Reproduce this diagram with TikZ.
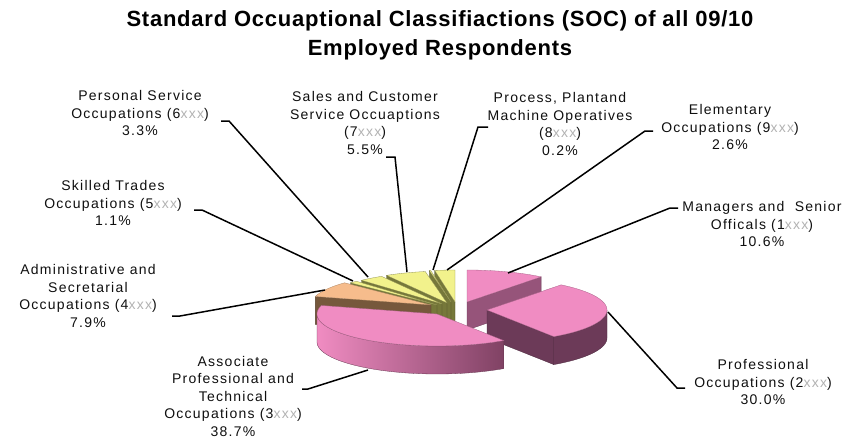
\documentclass[tikz,border=0pt]{standalone}
\usepackage{fontspec}
\setmainfont{Liberation Sans}
\newfontfamily\lblfont[LetterSpace=9]{Liberation Sans}
\newfontfamily\ttlfont[LetterSpace=3.5]{Liberation Sans}
\usetikzlibrary{calc}
\definecolor{pinkT}{RGB}{240,140,194}
\definecolor{mgrSide}{RGB}{150,84,122}
\definecolor{proSide}{RGB}{108,58,88}
\definecolor{assDark}{RGB}{128,66,100}
\definecolor{peachT}{RGB}{246,188,140}
\definecolor{brownS}{RGB}{118,88,60}
\definecolor{yelT}{RGB}{242,242,140}
\definecolor{oliveS}{RGB}{118,120,58}
\definecolor{txt}{RGB}{15,15,15}
\def\pRX{120}\def\pRY{32}\def\pHH{28}
\newcommand\pieslice[7]{%
  \pgfmathsetmacro\sA{max(#3,90)}%
  \pgfmathsetmacro\sB{min(#4,270)}%
  \pgfmathtruncatemacro\vC{\sB>\sA ? 1 : 0}%
  \ifnum\vC=1
    \path[#6] plot[domain=\sA:\sB,samples=40] ({#1+\pRX*sin(\x)},{#2-\pRY*cos(\x)}) -- plot[domain=\sB:\sA,samples=40] ({#1+\pRX*sin(\x)},{#2+\pHH-\pRY*cos(\x)}) -- cycle;
  \fi
  \pgfmathtruncatemacro\vS{sin(#3)<-0.01 ? 1 : 0}%
  \ifnum\vS=1
    \path[#7] (#1,#2) -- ({#1+\pRX*sin(#3)},{#2-\pRY*cos(#3)}) -- ({#1+\pRX*sin(#3)},{#2+\pHH-\pRY*cos(#3)}) -- (#1,#2+\pHH) -- cycle;
  \fi
  \pgfmathtruncatemacro\vE{sin(#4)>0.01 ? 1 : 0}%
  \ifnum\vE=1
    \path[#7] (#1,#2) -- ({#1+\pRX*sin(#4)},{#2-\pRY*cos(#4)}) -- ({#1+\pRX*sin(#4)},{#2+\pHH-\pRY*cos(#4)}) -- (#1,#2+\pHH) -- cycle;
  \fi
  \path[#5] (#1,#2) -- plot[domain=#3:#4,samples=40] ({#1+\pRX*sin(\x)},{#2-\pRY*cos(\x)}) -- cycle;
}
\tikzset{
  lbl/.style={font=\lblfont\fontsize{14}{17.5}\selectfont, text=txt, align=center, inner sep=0pt},
  ttl/.style={font=\ttlfont\bfseries\fontsize{22}{29}\selectfont, align=center, inner sep=0pt},
  leader/.style={draw=black, line width=1.5pt},
  pinktop/.style={fill=pinkT, draw=pinkT!70!black, line width=0.3pt},
  yeltop/.style={fill=yelT, draw=yelT!60!black, line width=0.3pt},
  oliveside/.style={fill=oliveS, draw=oliveS!60!black, line width=0.3pt},
}
\newcommand\xs[1]{\textcolor{gray!60}{#1}}
\begin{document}
\begin{tikzpicture}[x=1pt,y=-1pt]
\useasboundingbox (0,0) rectangle (844,445);
% title
\node[ttl] (title) at (440,35) {Standard Occuaptional Classifiactions (SOC) of all 09/10\\Employed Respondents};
% pie slices (back to front)
\pieslice{467}{302}{0}{38.16}{pinktop}{fill=mgrSide}{fill=mgrSide, draw=mgrSide!70!black, line width=0.3pt}
\pieslice{455}{302}{350.28}{360}{yeltop}{oliveside}{oliveside}
\pieslice{451}{302}{349.56}{350.28}{yeltop}{oliveside}{oliveside}
\pieslice{447}{303}{329.76}{349.56}{yeltop}{oliveside}{oliveside}
\pieslice{442}{304}{317.88}{329.76}{yeltop}{oliveside}{oliveside}
\pieslice{437}{305}{313.92}{317.88}{yeltop}{oliveside}{oliveside}
\pieslice{431}{305}{285.48}{313.92}{fill=peachT, draw=peachT!70!black, line width=0.3pt}{fill=brownS}{fill=brownS, draw=brownS!70!black, line width=0.3pt}
\pieslice{487}{310}{38.16}{146.16}{pinktop}{fill=proSide, draw=proSide!70!black, line width=0.3pt}{fill=proSide, draw=proSide!70!black, line width=0.3pt}
\pieslice{437}{314}{146.16}{285.48}{pinktop}{left color=pinkT, middle color=pinkT!85!assDark, right color=assDark, draw=assDark!80!black, line width=0.3pt}{fill=assDark}
% labels
\node[lbl] (lPers) at (140,113) {Personal Service\\Occupations (6\xs{xxx})\\3.3\%};
\node[lbl] (lSkil) at (113,203) {Skilled Trades\\Occupations (5\xs{xxx})\\1.1\%};
\node[lbl] (lAdm) at (88,296) {Administrative and\\Secretarial\\Occupations (4\xs{xxx})\\7.9\%};
\node[lbl] (lAss) at (233,396) {Associate\\Professional and\\Technical\\Occupations (3\xs{xxx})\\38.7\%};
\node[lbl] (lPro) at (763,382) {Professional\\Occupations (2\xs{xxx})\\30.0\%};
\node[lbl] (lMgr) at (762,224) {Managers and \ Senior\\Officals (1\xs{xxx})\\10.6\%};
\node[lbl] (lEle) at (730,127) {Elementary\\Occupations (9\xs{xxx})\\2.6\%};
\node[lbl] (lPrc) at (560,124) {Process, Plantand\\Machine Operatives\\(8\xs{xxx})\\0.2\%};
\node[lbl] (lSal) at (365,123) {Sales and Customer\\Service Occuaptions\\(7\xs{xxx})\\5.5\%};
% connector coordinates
\coordinate (sPers) at (221,121); \coordinate (ePers) at (368,277);
\coordinate (sSkil) at (194,210); \coordinate (eSkil) at (353,281);
\coordinate (sAdm) at (172,316); \coordinate (eAdm) at (325,290);
\coordinate (sAss) at (302,389); \coordinate (eAss) at (368,370);
\coordinate (sPro) at (685,388); \coordinate (ePro) at (608,312);
\coordinate (sMgr) at (678,208); \coordinate (eMgr) at (508,273);
\coordinate (sEle) at (653,131); \coordinate (eEle) at (447,270);
\coordinate (sPrc) at (488,127); \coordinate (ePrc) at (433,270);
\coordinate (sSal) at (386,157); \coordinate (eSal) at (407,272);
% connectors
\draw[leader] (sPers) -- ++(8,0) -- (ePers);
\draw[leader] (sSkil) -- ++(8,0) -- (eSkil);
\draw[leader] (sAdm) -- ++(8,0) -- (eAdm);
\draw[leader] (sAss) -- ++(6,0) -- (eAss);
\draw[leader] (sPro) -- ++(-8,0) -- (ePro);
\draw[leader] (sMgr) -- ++(-8,0) -- (eMgr);
\draw[leader] (sEle) -- ++(-8,0) -- (eEle);
\draw[leader] (sPrc) -- ++(-10,0) -- (ePrc);
\draw[leader] (sSal) -- ++(9,0) -- (eSal);
\end{tikzpicture}
\end{document}
